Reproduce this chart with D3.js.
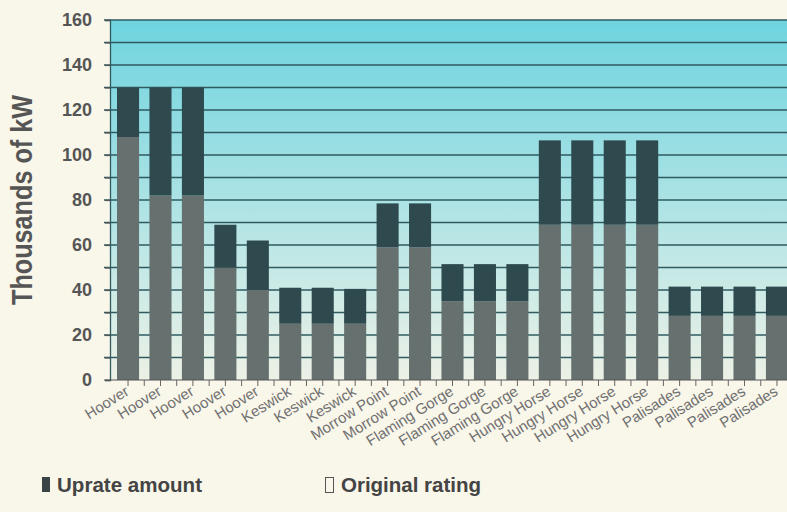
<!DOCTYPE html>
<html>
<head>
<meta charset="utf-8">
<script src="https://cdn.jsdelivr.net/npm/d3@7"></script>
<style>
  html, body { margin: 0; padding: 0; background: #f9f6ea; }
  svg { display: block; }
</style>
</head>
<body>
<svg id="chart" width="787" height="512"></svg>
<script>
const categories = ["Hoover","Hoover","Hoover","Hoover","Hoover","Keswick","Keswick","Keswick",
  "Morrow Point","Morrow Point","Flaming Gorge","Flaming Gorge","Flaming Gorge",
  "Hungry Horse","Hungry Horse","Hungry Horse","Hungry Horse",
  "Palisades","Palisades","Palisades","Palisades"];
const originalRating = [108, 82, 82, 50, 40, 25, 25, 25, 59, 59, 35, 35, 35, 69, 69, 69, 69, 28.5, 28.5, 28.5, 28.5];
const uprateTotal    = [130, 130, 130, 69, 62, 41, 41, 40.5, 78.5, 78.5, 51.5, 51.5, 51.5, 106.5, 106.5, 106.5, 106.5, 41.5, 41.5, 41.5, 41.5];
const yTicks = [0, 20, 40, 60, 80, 100, 120, 140, 160];
const gridValues = [10, 20, 30, 40, 50, 60, 70, 80, 90, 100, 110, 120, 130, 140, 150, 160];
const legendLabels = ["Uprate amount", "Original rating"];

const svg = d3.select("#chart");
const fontFam = "'Liberation Sans', Arial, sans-serif";

const y = d3.scaleLinear().domain([0, 160]).range([380, 20]);
const x = d3.scaleBand().domain(d3.range(categories.length)).range([110, 795])
  .paddingInner(0.32).paddingOuter(0.216);

// background gradient
const defs = svg.append("defs");
const grad = defs.append("linearGradient").attr("id", "bg").attr("x1", 0).attr("y1", 0).attr("x2", 0).attr("y2", 1);
[["0%", "#6fd4df"], ["35%", "#98dee3"], ["70%", "#c6e9e6"], ["100%", "#edf1e6"]]
  .forEach(([o, c]) => grad.append("stop").attr("offset", o).attr("stop-color", c));

svg.append("rect").attr("x", 110).attr("y", y(160)).attr("width", 787 - 110).attr("height", y(0) - y(160))
  .attr("fill", "url(#bg)");

// grid lines
svg.append("g").selectAll("line").data(gridValues).join("line")
  .attr("x1", 104).attr("x2", 787)
  .attr("y1", d => y(d)).attr("y2", d => y(d))
  .attr("stroke", "#2f5a60").attr("stroke-width", 1.3);

// bars: original rating
const bars = svg.append("g");
bars.selectAll("rect.orig").data(categories).join("rect").attr("class", "orig")
  .attr("x", (d, i) => x(i)).attr("width", x.bandwidth())
  .attr("y", (d, i) => y(originalRating[i])).attr("height", (d, i) => y(0) - y(originalRating[i]))
  .attr("fill", "#65706f");
// uprate amount
bars.selectAll("rect.up").data(categories).join("rect").attr("class", "up")
  .attr("x", (d, i) => x(i)).attr("width", x.bandwidth())
  .attr("y", (d, i) => y(uprateTotal[i])).attr("height", (d, i) => y(originalRating[i]) - y(uprateTotal[i]))
  .attr("fill", "#2e4a4f");

// Y axis
const yAxis = svg.append("g").attr("transform", "translate(110,0)")
  .call(d3.axisLeft(y).tickValues(gridValues.concat([0])).tickSize(5).tickFormat(d => yTicks.includes(d) ? d : ""));
yAxis.select(".domain").attr("stroke", "#2f5a60").attr("stroke-width", 1.3);
yAxis.selectAll(".tick line").attr("stroke", "#555").attr("stroke-width", 1.2);
yAxis.selectAll(".tick text").attr("x", -18).attr("fill", "#555")
  .style("font-family", fontFam).style("font-weight", "bold").style("font-size", "18px");

// X axis
const halfSteps = [];
categories.forEach((c, i) => { halfSteps.push(x(i) + x.bandwidth() / 2); halfSteps.push(x(i) + x.bandwidth() + (x.step() - x.bandwidth()) / 2); });
svg.append("line").attr("x1", 104).attr("x2", 787).attr("y1", y(0)).attr("y2", y(0))
  .attr("stroke", "#555").attr("stroke-width", 1.2);
svg.append("g").selectAll("line").data(halfSteps).join("line")
  .attr("x1", d => d).attr("x2", d => d).attr("y1", y(0)).attr("y2", y(0) + 6)
  .attr("stroke", "#666").attr("stroke-width", 1);

svg.append("g").selectAll("text").data(categories).join("text")
  .attr("transform", (d, i) => `translate(${x(i) + x.bandwidth() / 2 + 2},${y(0) + 14}) rotate(-32)`)
  .attr("text-anchor", "end")
  .attr("fill", "#707070")
  .style("font-family", fontFam).style("font-size", "15px")
  .text(d => d);

// Y title
svg.append("text")
  .attr("transform", `translate(32,200) rotate(-90)`)
  .attr("text-anchor", "middle")
  .attr("fill", "#555")
  .attr("textLength", 210).attr("lengthAdjust", "spacingAndGlyphs")
  .style("font-family", fontFam).style("font-weight", "bold").style("font-size", "29px")
  .text("Thousands of kW");

// Legend
const lg = svg.append("g");
lg.append("rect").attr("x", 42).attr("y", 477).attr("width", 8).attr("height", 15).attr("fill", "#3a4446");
lg.append("text").attr("x", 57).attr("y", 492).attr("fill", "#444")
  .attr("textLength", 145).attr("lengthAdjust", "spacingAndGlyphs")
  .style("font-family", fontFam).style("font-weight", "bold").style("font-size", "20px").text(legendLabels[0]);
lg.append("rect").attr("x", 325.5).attr("y", 477.5).attr("width", 8).attr("height", 15)
  .attr("fill", "none").attr("stroke", "#555").attr("stroke-width", 1);
lg.append("text").attr("x", 341).attr("y", 492).attr("fill", "#444")
  .attr("textLength", 140).attr("lengthAdjust", "spacingAndGlyphs")
  .style("font-family", fontFam).style("font-weight", "bold").style("font-size", "20px").text(legendLabels[1]);
</script>
</body>
</html>
